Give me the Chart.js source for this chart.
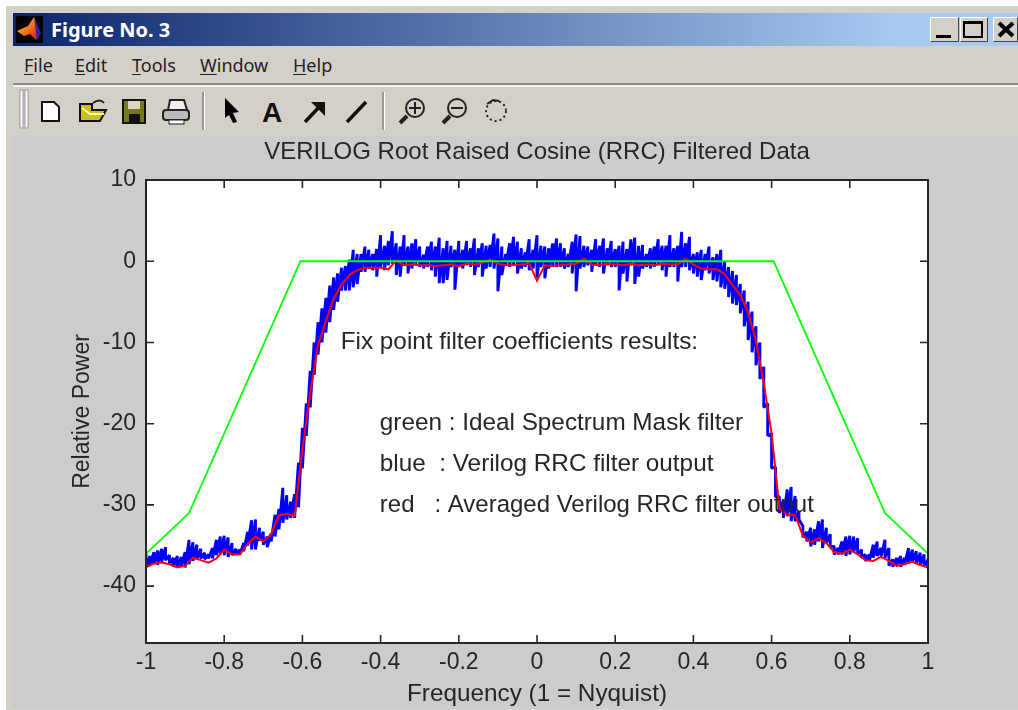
<!DOCTYPE html>
<html><head><meta charset="utf-8">
<script src="https://cdn.jsdelivr.net/npm/chart.js@4"></script>
<style>
html,body{margin:0;padding:0;background:#fff;overflow:hidden}
#win{position:absolute;left:0;top:0;width:1018px;height:710px;overflow:hidden;filter:blur(.55px)}
.abs{position:absolute}
#frame{left:6px;top:6px;right:0;bottom:0;background:#D4D0C8}
#bar{left:13px;top:13px;right:0;height:33px;background:linear-gradient(90deg,#0A246A 0%,#A6CAF0 88%)}
#ttl{left:51px;top:17px;color:#fff;font:bold 20px "Noto Sans";line-height:26px}
.m{position:absolute;top:52px;font:18px "Noto Sans";line-height:26px;color:#222}
.m u{text-underline-offset:2px}
#l1{left:13px;right:0;top:83px;height:2px;background:#8a8a86}
#l2{left:13px;right:0;top:85px;height:2px;background:#f4f3f0}
#fig{left:12px;top:136px;right:0;height:572px;background:#CCCCCC}
.btn{position:absolute;top:17px;height:25px;background:#D4D0C8;border:1px solid;border-color:#fff #444 #444 #fff;box-sizing:border-box}
canvas#c{position:absolute;left:0;top:0}
svg{position:absolute;left:0;top:0}
</style></head>
<body>
<div id="win">
<div class="abs" id="frame"></div>
<div class="abs" id="bar"></div>
<div id="ttl" class="abs">Figure No. 3</div>
<div class="btn" style="left:930px;width:29px"></div>
<div class="btn" style="left:960px;width:28px"></div>
<div class="btn" style="left:993px;width:25px"></div>
<div class="m" style="left:24px"><u>F</u>ile</div>
<div class="m" style="left:75px"><u>E</u>dit</div>
<div class="m" style="left:132px"><u>T</u>ools</div>
<div class="m" style="left:200px"><u>W</u>indow</div>
<div class="m" style="left:293px"><u>H</u>elp</div>
<div class="abs" id="l1"></div><div class="abs" id="l2"></div>
<div class="abs" id="fig"></div>
<svg width="1018" height="140" viewBox="0 0 1018 140">
 <defs><linearGradient id="pk" x1="0" y1="0" x2="1" y2="1"><stop offset="0" stop-color="#ffe040"/><stop offset=".6" stop-color="#f06010"/><stop offset="1" stop-color="#a01050"/></linearGradient></defs>
 <rect x="16" y="16" width="27" height="27" fill="#000"/>
 <path d="M17 31 L28 26 L34 17 L40 33 L36 40 L30 34 L24 36Z" fill="url(#pk)"/><path d="M34 17 L41 33 L37 40Z" fill="#3020a0"/>
 <rect x="936" y="35" width="15" height="3" fill="#000"/>
 <rect x="964" y="22" width="18" height="15" fill="none" stroke="#000" stroke-width="2"/><rect x="964" y="21" width="18" height="3"/>
 <path d="M999 23 L1013 36 M1013 23 L999 36" stroke="#000" stroke-width="4"/>
 <rect x="20" y="90" width="3" height="38" fill="#fff" stroke="#999" stroke-width="1"/><rect x="25" y="90" width="3" height="38" fill="#fff" stroke="#999" stroke-width="1"/>
 <rect x="202" y="92" width="2" height="38" fill="#999"/><rect x="204" y="92" width="1" height="38" fill="#fff"/>
 <rect x="382" y="92" width="2" height="38" fill="#999"/><rect x="384" y="92" width="1" height="38" fill="#fff"/>
 <path d="M42 102 H54 L59 107 V121 H42Z" fill="#fff" stroke="#111" stroke-width="2"/>
 <path d="M80 121 V104 H92 V110 H106 L100 121Z" fill="#c8c020" stroke="#111" stroke-width="2"/><path d="M82 108 L90 114 H104" stroke="#ffffa0" stroke-width="2" fill="none"/><path d="M93 103 Q100 98 104 103" stroke="#222" stroke-width="2" fill="none"/>
 <rect x="123" y="100" width="22" height="23" fill="#77771a" stroke="#111" stroke-width="2"/><rect x="128" y="101" width="12" height="8" fill="#d8d8c8"/><rect x="129" y="114" width="11" height="8" fill="#111"/>
 <path d="M170 100 H184 L187 110 H168Z" fill="#eee" stroke="#222" stroke-width="2"/><rect x="163" y="110" width="26" height="10" rx="3" fill="#bbb" stroke="#222" stroke-width="2"/><rect x="169" y="120" width="15" height="4" fill="#fff" stroke="#222"/>
 <path d="M225 98 L239 112 L233 113 L237 122 L233 123 L229 115 L225 118Z" fill="#000"/>
 <text x="262" y="122" font-family="Liberation Sans" font-weight="bold" font-size="28" fill="#111">A</text>
 <path d="M305 122 L322 104" stroke="#111" stroke-width="3.5"/><path d="M311 102 H325 V116Z" fill="#111"/>
 <path d="M347 122 L366 102" stroke="#111" stroke-width="3.5"/>
 <g fill="none" stroke="#222" stroke-width="2"><circle cx="415" cy="108" r="9"/><path d="M409 108 H421 M415 102 V114"/><path d="M407 116 L400 123" stroke-width="4"/>
 <circle cx="457" cy="108" r="9"/><path d="M451 108 H463"/><path d="M450 116 L443 123" stroke-width="4"/>
 <circle cx="496" cy="111" r="10" stroke-dasharray="2 3"/><path d="M487 104 L493 100 L499 101" stroke-width="2"/></g>
</svg>
<canvas id="c" width="1018" height="710"></canvas>
</div>
<script>
const titleText = "VERILOG Root Raised Cosine (RRC) Filtered Data";
const xTitle = "Frequency (1 = Nyquist)";
const yTitle = "Relative Power";
const xTicks = [-1,-0.8,-0.6,-0.4,-0.2,0,0.2,0.4,0.6,0.8,1];
const yTicks = [-40,-30,-20,-10,0,10];
const annotationText = [
 "Fix point filter coefficients results:",
 "green : Ideal Spectrum Mask filter",
 "blue  : Verilog RRC filter output",
 "red   : Averaged Verilog RRC filter output"
];
const annotationFreq = [-0.502,-0.402,-0.402,-0.402];
const annotationPower = [-10,-20,-25,-30.1];
const maskFreq = [-1,-0.89,-0.605,0.605,0.89,1];
const maskPower = [-36,-31,0,0,-31,-36];
const blueStep = 0.01;
const blueHi = [
-36.0,-36.3,-35.8,-35.6,-35.4,-35.2,-36.2,-36.5,-36.3,-36.4,
-35.8,-34.3,-34.6,-34.9,-35.4,-35.9,-36.1,-35.3,-34.3,-33.9,
-33.8,-34.0,-34.7,-35.4,-35.5,-34.7,-33.3,-31.9,-31.8,-32.8,
-33.3,-33.9,-33.5,-31.2,-30.5,-27.9,-28.8,-29.6,-28.7,-24.8,
-20.5,-17.5,-13.5,-10,-7.5,-5.8,-4.5,-3,-2,-1.5,
-0.8,-0.6,0.2,1.4,
0.9,0.9,1.8,1.4,0.9,1.5,3.2,1.9,2.5,3.7,2.2,1.8,3.2,1.8,2.2,2.7,1.8,0.8,1.8,2.4,1.8,2.9,1.6,2.5,1.9,1.4,2.5,1.4,2.5,1.6,
2.8,1.6,2.2,1.9,2.0,3.4,2.8,1.8,0.9,2.2,3.0,2.4,1.6,1.1,2.7,1.4,3.2,1.9,1.8,1.6,2.2,2.8,2.2,1.6,0.9,2.4,3.3,3.1,1.9,1.8,1.4,2.7,1.9,
2.8,1.6,2.5,1.5,1.9,2.4,1.5,2.7,2.9,1.9,2.0,0.9,1.6,1.8,2.7,1.9,1.9,3.2,1.6,1.9,3.6,2.2,3.0,0.9,1.1,1.4,0.9,1.8,0.5,0.9,1.4,0,-0.7,-1.2,-1.7,
-2.8,-3.6,-5,-6.2,-8,-10,-13,-17.5,-21.2,-25.3,-29,-29.4,-28.1,-27.8,-28.9,-30.8,-32.6,-33.3,-32.8,-33,-32,-31.8,-32.8,-33.6,-35.1,-35.3,-34.5,-33.9,-33.8,-33.9,-34.1,-35.5,-36.1,-36.1,-34.9,-34.5,-35.3,-34.3,-35.3,-36.7,-36.5,-36.3,-36.5,-35.3,-35.5,-35.7,-35.9,-36.1,-36.7];
const blueLo = [
-37.6,-37.5,-37.3,-37.4,-37.0,-36.8,-37.3,-37.6,-37.7,-37.6,
-37.7,-37.3,-36.9,-36.7,-36.6,-36.7,-36.6,-36.6,-36.2,-36.1,
-36.2,-36.4,-36.2,-36.1,-36.1,-35.7,-35.0,-35.5,-35.5,-34.4,
-34.9,-35.2,-34.5,-33.9,-33.0,-32.2,-31.8,-31.6,-31.6,-30.3,
-25.5,-21.5,-18,-14,-11.5,-10,-8.8,-7.5,-6,-5,
-3.6,-3.6,-3.6,-3.2,
-2.8,-1.3,-1.3,-0.9,-1.1,-1.9,-0.7,-1.1,-0.5,-0.3,-1.7,-1.9,-0.5,-1.5,-0.9,-0.3,-0.7,-0.9,-0.7,-1.1,-1.9,-2.7,-2.7,-2.3,-0.7,-3.5,-0.7,-0.9,-0.5,-0.7,
-1.7,-0.7,-1.9,-0.9,-0.7,-0.9,-3.7,-1.7,-0.5,-0.7,-0.5,-1.5,-0.9,-0.7,-1.1,-0.9,-2.0,-0.7,-2.1,-0.9,-0.7,-0.7,-0.7,-0.9,-0.7,-1.5,-3.7,-0.9,-0.7,-0.5,-1.3,-0.5,-0.7,
-1.5,-0.5,-0.7,-0.7,-3.6,-1.5,-2.5,-0.5,-2.8,-1.9,-0.9,-0.7,-0.9,-0.7,-0.5,-1.1,-1.9,-0.7,-0.7,-2.5,-0.7,-0.7,-1.1,-1.5,-1.9,-2.3,-1.1,-1.5,-2.3,-2.5,-3.2,-3.4,-4.4,-5.2,-5.4,
-6.4,-8,-9.7,-11.2,-12.8,-14.5,-18,-21.5,-25.5,-29,-31,-31.6,-31.4,-32,-32,-31.8,-34,-34.5,-35.1,-34.9,-34.5,-35.3,-34.7,-35.1,-36.1,-36.1,-36.1,-36.3,-36.1,-35.8,-36.1,-36.5,-36.9,-36.9,-36.5,-36.3,-36.3,-36.5,-37.5,-37.6,-37.4,-37.6,-37.4,-37.2,-37,-37.2,-37.4,-37.6,-37.8];
const redStep = 0.02;
const redAvg = [
-37.7,-37.2,-37.1,-37.3,-37.7,-37.5,-36.5,-36.8,-37.1,-36.6,
-35.5,-36.1,-36.1,-34.8,-33.9,-34.5,-33.6,-31.3,-31.1,-31.4,
-23.2,-16.2,-10.3,-7.4,-4.6,-2.9,-1.7,-1.1,-0.8,-0.8,
-0.8,-1.0,0.1,-0.5,-0.4,-0.5,-0.5,-0.6,-0.5,-0.4,
-0.6,-0.3,-0.4,-0.2,0.2,-0.3,-0.5,-0.5,-0.4,-0.3,
-2.4,-0.5,-0.6,-0.5,-0.4,-0.3,0.3,-0.4,-0.5,-0.3,
-0.4,-0.5,-0.3,-0.5,-0.4,-0.5,-0.3,-0.4,-0.4,0.3,
-0.4,-0.9,-1,-1,-1.6,-2.9,-4.2,-6.3,-9.8,-15,
-21.2,-30.4,-31.2,-31.2,-33.8,-34.6,-34.1,-34.7,-35.8,-36,
-35.5,-36.1,-36.8,-36.9,-36.4,-36.9,-37.5,-37.3,-37,-37.4,-37.7];

const blueData=[];
blueHi.forEach((h,i)=>{const f=-1+i*blueStep; blueData.push({x:f,y:h},{x:f,y:blueLo[i]});});
const redData=redAvg.map((v,i)=>({x:-1+i*redStep,y:v}));
const greenData=maskFreq.map((f,i)=>({x:f,y:maskPower[i]}));
const INK="#262626";
const FONT="Liberation Sans";

const boxPlugin={id:'box',
 beforeDatasetsDraw(ch){const a=ch.chartArea,c=ch.ctx;c.save();c.fillStyle="#fff";c.fillRect(a.left,a.top,a.width,a.height);c.restore();},
 afterDatasetsDraw(ch){const a=ch.chartArea,c=ch.ctx,sx=ch.scales.x,sy=ch.scales.y;
  c.save();c.strokeStyle=INK;c.lineWidth=1.6;c.beginPath();
  xTicks.forEach(t=>{const p=sx.getPixelForValue(t);c.moveTo(p,a.bottom);c.lineTo(p,a.bottom-8);c.moveTo(p,a.top);c.lineTo(p,a.top+8);});
  yTicks.forEach(t=>{const p=sy.getPixelForValue(t);c.moveTo(a.left,p);c.lineTo(a.left+8,p);c.moveTo(a.right,p);c.lineTo(a.right-8,p);});
  c.stroke();c.lineWidth=2;c.strokeRect(a.left,a.top,a.width,a.height);
  c.fillStyle=INK;c.font="24.3px '"+FONT+"'";c.textBaseline="middle";c.textAlign="left";
  annotationText.forEach((t,i)=>{const x=sx.getPixelForValue(annotationFreq[i]),y=sy.getPixelForValue(annotationPower[i]);
    if(i===3)c.fillText(t,x,y,434);else c.fillText(t,x,y);});
  c.restore();}
};
new Chart(document.getElementById('c'),{
 type:'line',
 data:{datasets:[
  {label:'green',data:greenData,borderColor:'#00FF00',borderWidth:1.8,pointRadius:0,tension:0,order:1},
  {label:'red',data:redData,borderColor:'#FF0000',borderWidth:2,pointRadius:0,tension:0,order:2},
  {label:'blue',data:blueData,borderColor:'#0000FF',borderWidth:2.9,borderCapStyle:'butt',borderJoinStyle:'bevel',pointRadius:0,tension:0,order:3}
 ]},
 options:{responsive:false,animation:false,
  layout:{padding:{left:0,right:90,top:0,bottom:0}},
  plugins:{legend:{display:false},tooltip:{enabled:false},
   title:{display:true,text:titleText,fullSize:false,color:INK,font:{family:FONT,size:24,weight:'normal'},padding:{top:138,bottom:13.2}}},
  scales:{
   x:{type:'linear',min:-1,max:1,afterBuildTicks:s=>{s.ticks=xTicks.map(v=>({value:v}));},afterFit:s=>{s.height=67;},
      border:{display:false},grid:{display:false,tickLength:0},
      ticks:{color:INK,font:{family:FONT,size:23},padding:6,maxRotation:0,autoSkip:false,callback:v=>String(v)},
      title:{display:true,text:xTitle,color:INK,font:{family:FONT,size:24.3},padding:{top:0,bottom:1}}},
   y:{type:'linear',min:-47,max:10,afterBuildTicks:s=>{s.ticks=yTicks.map(v=>({value:v}));},afterFit:s=>{s.width=146;},
      border:{display:false},grid:{display:false,tickLength:0},
      ticks:{color:INK,font:{family:FONT,size:23},padding:10,autoSkip:false,callback:v=>String(v)},
      title:{display:true,text:yTitle,color:INK,font:{family:FONT,size:23},padding:{top:69,bottom:0}}}
  }},
 plugins:[boxPlugin]
});
</script>
</body></html>
